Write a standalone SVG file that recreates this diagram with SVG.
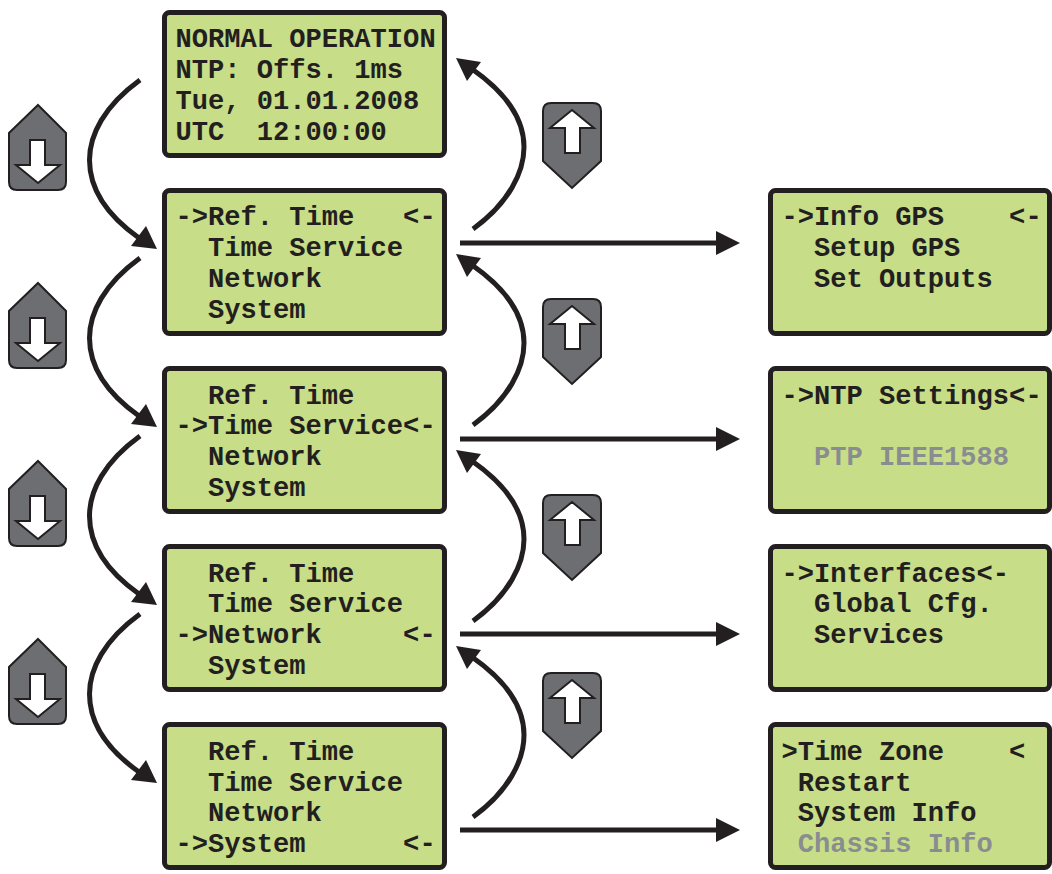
<svg xmlns="http://www.w3.org/2000/svg" width="1052" height="874" viewBox="0 0 1052 874">
<style>
text{font-family:"Liberation Mono","DejaVu Sans Mono",monospace;font-weight:700;font-size:27.1px;fill:#231f20;white-space:pre}
.g{fill:#8a8d90}
.box{fill:#c7dd88;stroke:#231f20;stroke-width:5}
.c{fill:none;stroke:#231f20;stroke-width:5}
.h{fill:#231f20}
.b{fill:#6d6e71;stroke:#231f20;stroke-width:2}
.w{fill:#fff;stroke:#231f20;stroke-width:2}
</style>
<defs>
<g id="down"><path class="c" d="M140,80C104,106 89.500,135 89.500,160C89.500,190 108,216 139,238"/><path class="h" d="M157,249L131,246L146,226Z"/></g>
<g id="up"><path class="c" d="M473,229C509,203 524,172 524,147C524,117 505,92 472,69"/><path class="h" d="M456,58L481,62L467,81Z"/></g>
<g id="right"><path class="c" d="M460,243H720"/><path class="h" d="M716,231L740,243L716,255Z"/></g>
<g id="bd"><path class="b" d="M38,105L66,133V182Q66,190 58,190H17Q9,190 9,182V133Z"/><path class="w" d="M30,140H45V165H60L38,183L16,165H30Z"/></g>
<g id="bu"><path class="b" d="M551,103H593Q601,103 601,111V161L572,188L543,161V111Q543,103 551,103Z"/><path class="w" d="M565,153H580V128H594L572,110L550,128H565Z"/></g>
</defs>
<g id="connectors">
<use href="#down"/><use href="#down" y="178"/><use href="#down" y="356"/><use href="#down" y="534"/>
<use href="#up"/><use href="#up" y="196"/><use href="#up" y="392"/><use href="#up" y="588"/>
<use href="#right"/><use href="#right" y="196"/><use href="#right" y="391"/><use href="#right" y="587"/>
</g>
<g id="key-down-1"><use href="#bd"/></g>
<g id="key-down-2"><use href="#bd" y="178"/></g>
<g id="key-down-3"><use href="#bd" y="356"/></g>
<g id="key-down-4"><use href="#bd" y="534"/></g>
<g id="key-up-1"><use href="#bu"/></g>
<g id="key-up-2"><use href="#bu" y="196"/></g>
<g id="key-up-3"><use href="#bu" y="392"/></g>
<g id="key-up-4"><use href="#bu" y="570"/></g>
<g id="lcd-normal"><rect class="box" x="164.5" y="12.500" width="280" height="143" rx="5"/>
<text x="175.500" y="47">NORMAL OPERATION</text><text x="175.500" y="78">NTP: Offs. 1ms</text><text x="175.500" y="109">Tue, 01.01.2008</text><text x="175.500" y="140">UTC  12:00:00</text></g>
<g id="lcd-ref"><rect class="box" x="164.5" y="190.500" width="280" height="143" rx="5"/>
<text x="175.500" y="225">-&gt;Ref. Time   &lt;-</text><text x="175.500" y="256">  Time Service</text><text x="175.500" y="287">  Network</text><text x="175.500" y="318">  System</text></g>
<g id="lcd-time"><rect class="box" x="164.5" y="368.500" width="280" height="143" rx="5"/>
<text x="175.500" y="404">  Ref. Time</text><text x="175.500" y="434">-&gt;Time Service&lt;-</text><text x="175.500" y="465">  Network</text><text x="175.500" y="496">  System</text></g>
<g id="lcd-network"><rect class="box" x="164.5" y="546.500" width="280" height="143" rx="5"/>
<text x="175.500" y="582">  Ref. Time</text><text x="175.500" y="612">  Time Service</text><text x="175.500" y="643">-&gt;Network     &lt;-</text><text x="175.500" y="674">  System</text></g>
<g id="lcd-system"><rect class="box" x="164.5" y="724.500" width="280" height="143" rx="5"/>
<text x="175.500" y="760">  Ref. Time</text><text x="175.500" y="791">  Time Service</text><text x="175.500" y="821">  Network</text><text x="175.500" y="852">-&gt;System      &lt;-</text></g>
<g id="lcd-gps"><rect class="box" x="770.5" y="190.500" width="279" height="143" rx="5"/>
<text x="781.500" y="225">-&gt;Info GPS    &lt;-</text><text x="781.500" y="256">  Setup GPS</text><text x="781.500" y="287">  Set Outputs</text></g>
<g id="lcd-ntp"><rect class="box" x="770.5" y="368.500" width="279" height="143" rx="5"/>
<text x="781.500" y="404">-&gt;NTP Settings&lt;-</text><text class="g" x="781.500" y="465">  PTP IEEE1588</text></g>
<g id="lcd-if"><rect class="box" x="770.5" y="546.500" width="279" height="143" rx="5"/>
<text x="781.500" y="582">-&gt;Interfaces&lt;-</text><text x="781.500" y="612">  Global Cfg.</text><text x="781.500" y="643">  Services</text></g>
<g id="lcd-sys"><rect class="box" x="770.5" y="724.500" width="279" height="143" rx="5"/>
<text x="781.500" y="760">&gt;Time Zone    &lt;</text><text x="781.500" y="791"> Restart</text><text x="781.500" y="821"> System Info</text><text class="g" x="781.500" y="852"> Chassis Info</text></g>
</svg>
